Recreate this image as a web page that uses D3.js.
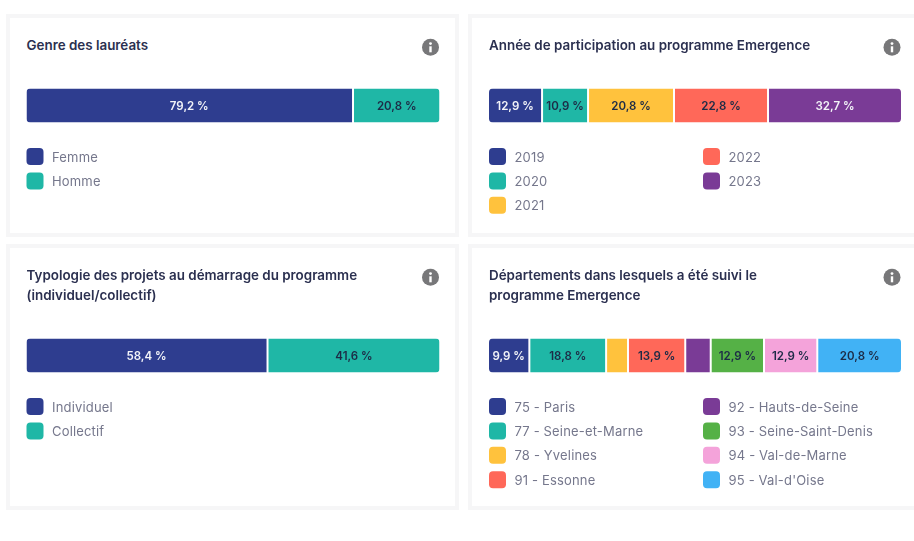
<!DOCTYPE html>
<html>
<head>
<meta charset="utf-8">
<style>
  html, body { margin: 0; padding: 0; background: #fff; overflow: hidden; }
  text { font-family: Inter, "Noto Sans", sans-serif; }
  svg { filter: blur(0.35px); }
</style>
<script src="https://d3js.org/d3.v7.min.js"></script>
</head>
<body>
<div id="canvas"></div>
<script>
"use strict"

/* Configuration variables: drawing */
let svgWidth = 914;
let svgHeight = 541;
let barHeight = 34;
let barGap = 2;

let barColors = ["#2e3d8f", "#1fb7a6", "#ffc23d", "#ff6859", "#7a3b96", "#55b146", "#f4a3da", "#41b2f5"];
let whiteLabels = ["#2e3d8f", "#7a3b96"];

/* Data: one set of small lists per chart */
let genreTitle = ["Genre des lauréats"];
let genreLabels = ["Femme", "Homme"];
let genreValues = [79.2, 20.8];

let anneeTitle = ["Année de participation au programme Emergence"];
let anneeLabels = ["2019", "2020", "2021", "2022", "2023"];
let anneeValues = [12.9, 10.9, 20.8, 22.8, 32.7];

let typoTitle = ["Typologie des projets au démarrage du programme", "(individuel/collectif)"];
let typoLabels = ["Individuel", "Collectif"];
let typoValues = [58.4, 41.6];

let deptTitle = ["Départements dans lesquels a été suivi le", "programme Emergence"];
let deptLabels = ["75 - Paris", "77 - Seine-et-Marne", "78 - Yvelines", "91 - Essonne",
    "92 - Hauts-de-Seine", "93 - Seine-Saint-Denis", "94 - Val-de-Marne", "95 - Val-d'Oise"];
let deptValues = [9.9, 18.8, 5.0, 13.9, 5.9, 12.9, 12.9, 20.8];

/* Segments below this share get no label, they are too narrow */
let minLabelValue = 9;

let svg = d3.select("#canvas")
    .append("svg")
    .attr("width", svgWidth)
    .attr("height", svgHeight)
    .style("display", "block");

let defs = svg.append("defs");

function drawCard(id, box, title, labels, values) {
    let g = svg.append("g");

    // Card with a pale border
    g.append("rect")
        .attr("x", box.x + 2)
        .attr("y", box.y + 2)
        .attr("width", box.w - 4)
        .attr("height", box.h - 4)
        .attr("fill", "white")
        .attr("stroke", "#f6f6f7")
        .attr("stroke-width", 4);

    // Title, one or two lines
    title.forEach(function(line, i) {
        g.append("text")
            .attr("x", box.left)
            .attr("y", box.y + 36 + i * 20)
            .attr("font-size", 13.4)
            .attr("font-weight", 600)
            .attr("fill", "#2b3050")
            .text(line);
    });

    // Info icon
    let iconX = box.right - 9;
    let iconY = box.y + 33.3;
    g.append("circle")
        .attr("cx", iconX)
        .attr("cy", iconY)
        .attr("r", 8.5)
        .attr("fill", "#777779");
    g.append("circle")
        .attr("cx", iconX)
        .attr("cy", iconY - 3.7)
        .attr("r", 1.4)
        .attr("fill", "white");
    g.append("rect")
        .attr("x", iconX - 1.2)
        .attr("y", iconY - 1)
        .attr("width", 2.4)
        .attr("height", 6)
        .attr("fill", "white");

    // Stacked bar: the gaps take their room first, the scale shares out the rest
    let total = d3.sum(values);
    let xScale = d3.scaleLinear()
        .domain([0, total])
        .range([box.left, box.right - barGap * (values.length - 1)]);
    let starts = d3.cumsum([0].concat(values));

    defs.append("clipPath")
        .attr("id", "clip-" + id)
        .append("rect")
        .attr("x", box.left)
        .attr("y", box.barY)
        .attr("width", box.right - box.left)
        .attr("height", barHeight)
        .attr("rx", 4);

    let bar = g.append("g")
        .attr("clip-path", "url(#clip-" + id + ")");

    bar.selectAll("rect")
        .data(values)
        .join("rect")
        .attr("x", function(d, i) { return xScale(starts[i]) + i * barGap; })
        .attr("y", box.barY)
        .attr("width", function(d, i) { return xScale(starts[i] + d) - xScale(starts[i]); })
        .attr("height", barHeight)
        .attr("fill", function(d, i) { return barColors[i]; });

    g.selectAll("text.value")
        .data(values)
        .join("text")
        .attr("class", "value")
        .attr("x", function(d, i) { return (xScale(starts[i]) + xScale(starts[i] + d)) / 2 + i * barGap; })
        .attr("y", box.barY + barHeight / 2)
        .attr("text-anchor", "middle")
        .attr("dominant-baseline", "central")
        .attr("font-size", 11.5)
        .attr("font-weight", 600)
        .attr("fill", function(d, i) {
            return whiteLabels.includes(barColors[i]) ? "#f2f3f8" : "#1d2b46";
        })
        .text(function(d) {
            return d >= minLabelValue ? d.toFixed(1).replace(".", ",") + " %" : "";
        });

    // Legend, filled column by column
    let perColumn = Math.ceil(labels.length / 2);
    if (labels.length == 2) {
        perColumn = 2;
    }
    let legendY = box.barY + 68;

    for (let i = 0; i < labels.length; i++) {
        let column = Math.floor(i / perColumn);
        let row = i % perColumn;
        let itemX = box.left + column * 214;
        let itemY = legendY + row * 24.4;

        g.append("rect")
            .attr("x", itemX)
            .attr("y", itemY - 8.5)
            .attr("width", 17)
            .attr("height", 17)
            .attr("rx", 4)
            .attr("fill", barColors[i]);

        g.append("text")
            .attr("x", itemX + 25.5)
            .attr("y", itemY)
            .attr("dominant-baseline", "central")
            .attr("font-size", 13)
            .attr("letter-spacing", 0.17)
            .attr("fill", "#75778c")
            .text(labels[i]);
    }
}

drawCard("genre", {x: 6, y: 14, w: 453, h: 223, left: 26.5, right: 439.5, barY: 88.5},
    genreTitle, genreLabels, genreValues);
drawCard("annee", {x: 468, y: 14, w: 452, h: 223, left: 489, right: 901, barY: 88.5},
    anneeTitle, anneeLabels, anneeValues);
drawCard("typo", {x: 6, y: 244, w: 453, h: 266, left: 26.5, right: 439.5, barY: 338.5},
    typoTitle, typoLabels, typoValues);
drawCard("dept", {x: 468, y: 244, w: 452, h: 266, left: 489, right: 901, barY: 338.5},
    deptTitle, deptLabels, deptValues);
</script>
</body>
</html>
